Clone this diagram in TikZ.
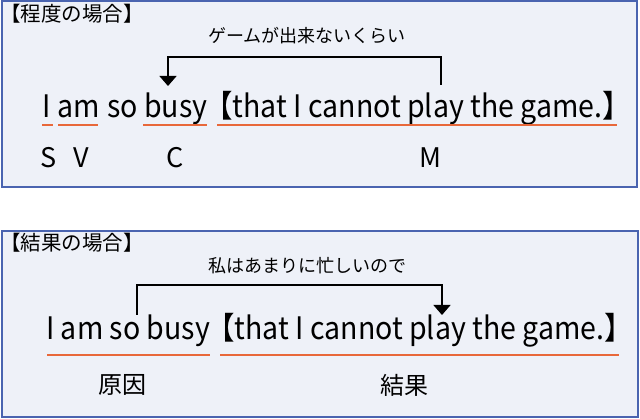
\documentclass[tikz,border=0pt]{standalone}
\usepackage{fontspec}
\setmainfont{Noto Sans CJK JP}
\newfontfamily\sentfont[FakeStretch=0.92]{Noto Sans CJK JP}
\usetikzlibrary{arrows.meta}
\definecolor{boxline}{HTML}{4A64B0}
\definecolor{boxfill}{HTML}{EEF1F8}
\definecolor{ulinec}{HTML}{E8683A}
\begin{document}
\begin{tikzpicture}[x=1pt,y=-1pt,
  panel/.style={draw=boxline, fill=boxfill, line width=2pt},
  title/.style={font=\fontsize{20.5}{24}\selectfont, anchor=west, inner sep=0},
  note/.style={font=\fontsize{18}{20}\selectfont, inner sep=0},
  word/.style={font=\sentfont\fontsize{31}{36}\selectfont, anchor=base west, inner sep=0},
  role/.style={font=\fontsize{27}{30}\selectfont, inner sep=0},
  rolej/.style={font=\fontsize{24}{30}\selectfont, inner sep=0},
  uline/.style={draw=ulinec, line width=2pt},
  link/.style={draw=black, line width=1.4pt},
  tip/.style={-{Triangle[width=17pt,length=10pt]}}]
\useasboundingbox (0,0) rectangle (640,419);
% panel 1
\draw[panel] (1.5,1.5) rectangle (637,187);
\node[title] (t1) at (0,14) {【程度の場合】};
\node[note] (n1) at (307,36) {ゲームが出来ないくらい};
\node[word] (a1) at (42,118) {I};
\node[word] (a2) at (57,118) {am};
\node[word] (a3) at (107,118) {so};
\node[word] (a4) at (144,118) {busy};
\node[word] (a5) at (204,118) {【that I cannot play the game.】};
\coordinate (p1) at (441,85);
\coordinate (q1) at (168,86);
\draw[link,tip] (p1) -- (441,57) -- (168,57) -- (q1);
\draw[uline] (42,125) -- (53,125);
\draw[uline] (58,125) -- (98,125);
\draw[uline] (143,125) -- (207,125);
\draw[uline] (217,125) -- (617,125);
\node[role] (r1) at (48.5,158) {S};
\node[role] (r2) at (81,158) {V};
\node[role] (r3) at (175,158) {C};
\node[role] (r4) at (430,158) {M};
% panel 2
\draw[panel] (1.5,231) rectangle (637.5,417);
\node[title] (t2) at (0,243) {【結果の場合】};
\node[note] (n2) at (307,266) {私はあまりに忙しいので};
\node[word] (b1) at (46,340) {I am so busy};
\node[word] (b2) at (206,340) {【that I cannot play the game.】};
\coordinate (p2) at (137,315);
\coordinate (q2) at (442,315);
\draw[link,tip] (p2) -- (137,285) -- (442,285) -- (q2);
\draw[uline] (47,355) -- (210,355);
\draw[uline] (220,355) -- (619,355);
\node[rolej] (r5) at (122,385) {原因};
\node[rolej] (r6) at (404,385) {結果};
\end{tikzpicture}
\end{document}
